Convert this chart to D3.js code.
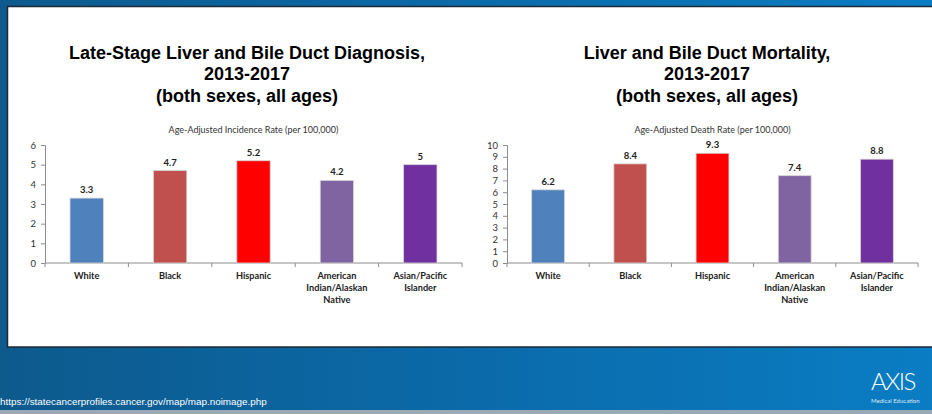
<!DOCTYPE html>
<html>
<head>
<meta charset="utf-8">
<script src="https://cdn.jsdelivr.net/npm/d3@7"></script>
<style>
  html, body { margin: 0; padding: 0; background: #0b6aa8; }
  svg { display: block; }
</style>
</head>
<body>
<svg id="slide" width="932" height="414"></svg>
<script>
// Race / ethnicity categories shared by both panels
const categories = ["White", "Black", "Hispanic", "American Indian/Alaskan Native", "Asian/Pacific Islander"];
const categoryLines = [["White"], ["Black"], ["Hispanic"], ["American", "Indian/Alaskan", "Native"], ["Asian/Pacific", "Islander"]];
const barColors = ["#4F81BD", "#C0504D", "#FF0000", "#8064A2", "#7030A0"];

// Late-stage diagnosis, age-adjusted incidence rate per 100,000
const incidenceValues = [3.3, 4.7, 5.2, 4.2, 5];
const incidenceTicks = [0, 1, 2, 3, 4, 5, 6];

// Mortality, age-adjusted death rate per 100,000
const mortalityValues = [6.2, 8.4, 9.3, 7.4, 8.8];
const mortalityTicks = [0, 1, 2, 3, 4, 5, 6, 7, 8, 9, 10];

const svg = d3.select("#slide");
const W = 932, H = 414;

// Slide background
const defs = svg.append("defs");
const bg = defs.append("linearGradient").attr("id", "bg").attr("x1", "0").attr("x2", "1").attr("y1", "0").attr("y2", "0");
bg.append("stop").attr("offset", "0").attr("stop-color", "#0d5a8d");
bg.append("stop").attr("offset", "0.5").attr("stop-color", "#0b6aa9");
bg.append("stop").attr("offset", "1").attr("stop-color", "#0a7dc4");
svg.append("rect").attr("width", W).attr("height", H).attr("fill", "url(#bg)");
svg.append("rect").attr("x", 0).attr("y", 410).attr("width", W).attr("height", 4).attr("fill", "#9aa9b6");

// White content panel
svg.append("rect").attr("x", 7.5).attr("y", 6.5).attr("width", W).attr("height", 340.5)
  .attr("fill", "#ffffff").attr("stroke", "#1b2a36").attr("stroke-width", 1.5);

function drawPanel(opts) {
  const g = svg.append("g");
  const x = d3.scaleBand().domain(categories).range([opts.x0, opts.x1]).paddingInner(0.6).paddingOuter(0.3);
  const y = d3.scaleLinear().domain([0, opts.max]).range([263, 145]);

  // Title
  const title = g.append("text").attr("text-anchor", "middle")
    .attr("font-family", "Liberation Sans, Arial, sans-serif").attr("font-weight", "bold")
    .attr("font-size", 18).attr("fill", "#000");
  opts.title.forEach((t, i) => {
    title.append("tspan").attr("x", opts.cx).attr("y", 58.5 + i * 21.5).text(t);
  });

  // Axis title
  g.append("text").attr("x", (opts.x0 + opts.x1) / 2).attr("y", 133)
    .attr("text-anchor", "middle").attr("font-family", "Lato, Open Sans, sans-serif")
    .attr("font-size", 9).attr("fill", "#333").text(opts.axisTitle);

  // Y axis
  const yAxis = g.append("g").attr("transform", `translate(${opts.x0},0)`)
    .call(d3.axisLeft(y).tickValues(opts.ticks).tickSize(4).tickPadding(5).tickFormat(d3.format("d")));
  yAxis.select(".domain").attr("stroke", "#8c8c8c");
  yAxis.selectAll(".tick line").attr("stroke", "#8c8c8c");
  yAxis.selectAll(".tick text").attr("font-family", "Lato, Open Sans, sans-serif")
    .attr("font-size", 9.5).attr("fill", "#333");

  // X axis line with ticks between categories
  g.append("line").attr("x1", opts.x0).attr("x2", opts.x1).attr("y1", y(0)).attr("y2", y(0))
    .attr("stroke", "#8c8c8c");
  const bandW = (opts.x1 - opts.x0) / categories.length;
  const bounds = d3.range(categories.length + 1).map(i => opts.x0 + i * bandW);
  g.selectAll(".xtick").data(bounds).join("line")
    .attr("x1", d => d).attr("x2", d => d).attr("y1", y(0)).attr("y2", y(0) + 4)
    .attr("stroke", "#8c8c8c");

  // Bars
  g.selectAll(".bar").data(opts.values).join("rect")
    .attr("x", (d, i) => x(categories[i]))
    .attr("width", x.bandwidth())
    .attr("y", d => y(d))
    .attr("height", d => y(0) - y(d))
    .attr("fill", (d, i) => barColors[i])
    .attr("stroke", "#d6d6d6").attr("stroke-width", 0.8);

  // Value labels
  g.selectAll(".val").data(opts.values).join("text")
    .attr("x", (d, i) => x(categories[i]) + x.bandwidth() / 2)
    .attr("y", d => y(d) - 5)
    .attr("text-anchor", "middle").attr("font-family", "Lato, Open Sans, sans-serif")
    .attr("font-weight", "bold").attr("font-size", 9.5).attr("fill", "#222")
    .text(d => d);

  // Category labels
  const cat = g.selectAll(".cat").data(categoryLines).join("text")
    .attr("text-anchor", "middle").attr("font-family", "Lato, Open Sans, sans-serif")
    .attr("font-weight", "bold").attr("font-size", 9.2).attr("fill", "#222");
  cat.each(function (lines, i) {
    const cx = x(categories[i]) + x.bandwidth() / 2;
    d3.select(this).selectAll("tspan").data(lines).join("tspan")
      .attr("x", cx).attr("y", (l, j) => 279 + j * 12).text(l => l);
  });
}

drawPanel({
  x0: 45, x1: 462, cx: 247, max: 6,
  values: incidenceValues, ticks: incidenceTicks,
  title: ["Late-Stage Liver and Bile Duct Diagnosis,", "2013-2017", "(both sexes, all ages)"],
  axisTitle: "Age-Adjusted Incidence Rate (per 100,000)"
});

drawPanel({
  x0: 507, x1: 918, cx: 707, max: 10,
  values: mortalityValues, ticks: mortalityTicks,
  title: ["Liver and Bile Duct Mortality,", "2013-2017", "(both sexes, all ages)"],
  axisTitle: "Age-Adjusted Death Rate (per 100,000)"
});

// Source line
svg.append("text").attr("x", 0).attr("y", 405)
  .attr("font-family", "Liberation Sans, Arial, sans-serif").attr("font-size", 9.9)
  .attr("fill", "#ffffff").text("https://statecancerprofiles.cancer.gov/map/map.noimage.php");

// Logo
svg.append("text").attr("x", 871).attr("y", 390)
  .attr("font-family", "Lato, sans-serif").attr("font-weight", 300).attr("font-size", 24)
  .attr("fill", "#ffffff").attr("letter-spacing", -1.5).text("AXIS");
svg.append("text").attr("x", 871).attr("y", 403)
  .attr("font-family", "Lato, sans-serif").attr("font-size", 6)
  .attr("fill", "#dfeaf4").text("Medical Education");
</script>
</body>
</html>
